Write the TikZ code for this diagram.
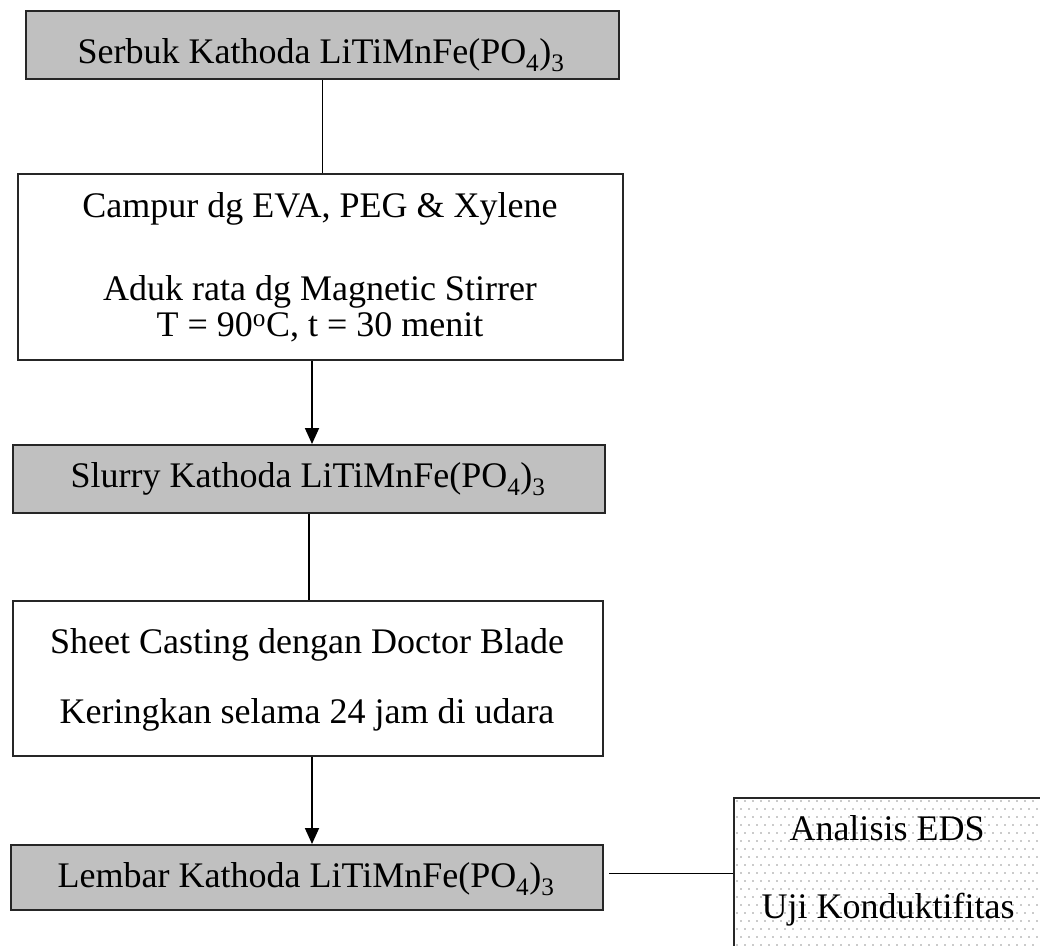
\documentclass[tikz,border=0pt]{standalone}
\usepackage{fontspec}
\setmainfont{Liberation Serif}
\usetikzlibrary{arrows.meta}
\definecolor{boxgray}{RGB}{192,192,192}
\definecolor{dotgray}{RGB}{150,150,150}
\begin{document}
\begin{tikzpicture}[x=1pt,y=-1pt,
  box/.style={draw=black!85, line width=2pt, rectangle, inner sep=0pt, anchor=north west},
  graybox/.style={box, fill=boxgray},
  txt/.style={anchor=base, inner sep=0pt, font=\fontsize{36}{40}\selectfont},
  conn/.style={line width=1.8pt, black},
  arr/.style={conn, -{Triangle[length=16pt,width=14pt]}}]
\clip (0,0) rectangle (1040,945);
\fill[white] (0,0) rectangle (1040,945);
% dotted background of the last box
\begin{scope}
\clip (733,797) rectangle (1050,960);
\foreach \i in {0,...,40} {
  \foreach \j in {0,...,20} {
    \fill[dotgray] ({737+\i*8+mod(\j,2)*4},{801+\j*8}) circle (0.85pt);
  }
}
\end{scope}
% boxes
\node[graybox, minimum width=593pt, minimum height=68pt] (b1) at (25,10) {};
\node[box, minimum width=605pt, minimum height=186pt] (b2) at (17,173) {};
\node[graybox, minimum width=592pt, minimum height=68pt] (b3) at (12,444) {};
\node[box, minimum width=590pt, minimum height=155pt] (b4) at (12,600) {};
\node[graybox, minimum width=592pt, minimum height=65pt] (b5) at (10,844) {};
\node[box, minimum width=315pt, minimum height=170pt] (b6) at (733,797) {};
% texts
\node[txt] (t1) at (321,63) {Serbuk Kathoda LiTiMnFe(PO\textsubscript{4})\textsubscript{3}};
\node[txt] (t2a) at (320,217) {Campur dg EVA, PEG \& Xylene};
\node[txt] (t2b) at (320,300) {Aduk rata dg Magnetic Stirrer};
\node[txt] (t2c) at (320,336) {T = 90\textsuperscript{o}C, t = 30 menit};
\node[txt] (t3) at (308,487) {Slurry Kathoda LiTiMnFe(PO\textsubscript{4})\textsubscript{3}};
\node[txt] (t4a) at (307,653) {Sheet Casting dengan Doctor Blade};
\node[txt] (t4b) at (307,723) {Keringkan selama 24 jam di udara};
\node[txt] (t5) at (306,887) {Lembar Kathoda LiTiMnFe(PO\textsubscript{4})\textsubscript{3}};
\node[txt] (t6a) at (887,840) {Analisis EDS};
\node[txt] (t6b) at (888,918) {Uji Konduktifitas};
% connectors
\draw[conn] (b1.south) -- (b1.south |- b2.north);
\draw[arr] ([xshift=3pt]b3.north |- b2.south) -- ([xshift=3pt]b3.north);
\draw[conn] (b3.south) -- (b3.south |- b4.north);
\draw[arr] ([xshift=5pt]b5.north |- b4.south) -- ([xshift=5pt]b5.north);
\draw[conn] ([xshift=5pt,yshift=4pt]b5.east) -- ([yshift=4pt]b5.east -| b6.west);
\end{tikzpicture}
\end{document}
